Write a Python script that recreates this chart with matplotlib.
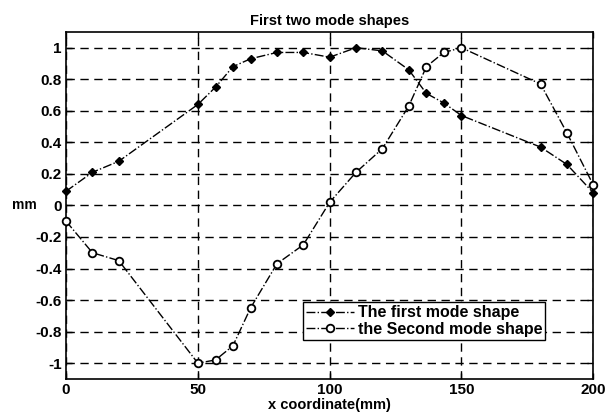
import matplotlib
matplotlib.use("Agg")
import matplotlib.pyplot as plt

x_pos = [0, 10, 20, 50, 56.7, 63.3, 70, 80, 90, 100, 110, 120, 130, 136.7, 143.3, 150, 180, 190, 200]
mode1 = [0.09, 0.21, 0.28, 0.64, 0.75, 0.88, 0.93, 0.97, 0.97, 0.94, 1.0, 0.98, 0.86, 0.71, 0.65, 0.57, 0.37, 0.26, 0.08]
mode2 = [-0.10, -0.30, -0.35, -1.0, -0.98, -0.89, -0.65, -0.37, -0.25, 0.02, 0.21, 0.36, 0.63, 0.88, 0.97, 1.0, 0.77, 0.46, 0.13]
x_ticks = [0, 50, 100, 150, 200]
y_ticks = [-1, -0.8, -0.6, -0.4, -0.2, 0, 0.2, 0.4, 0.6, 0.8, 1]
y_tick_labels = ["-1", "-0.8", "-0.6", "-0.4", "-0.2", "0", "0.2", "0.4", "0.6", "0.8", "1"]
labels = ["The first mode shape", "the Second mode shape"]

plt.rcParams['font.family'] = ['Liberation Sans', 'DejaVu Sans']
plt.rcParams['font.weight'] = 'bold'

fig = plt.figure(figsize=(6.06, 4.15), dpi=100)
ax = fig.add_axes([0.109, 0.087, 0.870, 0.836])

ax.plot(x_pos, mode1, color='black', linestyle='-.', linewidth=1.0,
        marker='D', markersize=4, markerfacecolor='black', label=labels[0], clip_on=False, zorder=3)
ax.plot(x_pos, mode2, color='black', linestyle='-.', linewidth=1.0,
        marker='o', markersize=5.5, markerfacecolor='white', markeredgewidth=1.3, label=labels[1],
        clip_on=False, zorder=3)

ax.set_xlim(0, 200)
ax.set_ylim(-1.1, 1.1)
ax.set_xticks(x_ticks)
ax.set_yticks(y_ticks)
ax.set_yticklabels(y_tick_labels)
ax.tick_params(direction='in', labelsize=11, length=4, width=1, top=True, right=True, pad=3)
for lab in ax.get_xticklabels() + ax.get_yticklabels():
    lab.set_fontweight('bold')
ax.grid(True, color='black', linestyle=(0, (6, 4)), linewidth=1.0)
for s in ax.spines.values():
    s.set_linewidth(1.2)

ax.set_title("First two mode shapes", fontsize=10.5, fontweight='bold', pad=5)
ax.set_xlabel("x coordinate(mm)", fontsize=10.5, fontweight='bold', labelpad=1)
ax.set_ylabel("mm", fontsize=10, fontweight='bold', rotation=0, labelpad=8, va='center')

leg = ax.legend(loc='lower left', bbox_to_anchor=(0.45, 0.112), fontsize=11.5,
                frameon=True, fancybox=False, edgecolor='black', framealpha=1,
                borderpad=0.2, handlelength=3.0, handletextpad=0.2, labelspacing=0.1,
                borderaxespad=0)
leg.get_frame().set_linewidth(1.0)
for t in leg.get_texts():
    t.set_fontweight('bold')

fig.savefig("out.png", dpi=100)
